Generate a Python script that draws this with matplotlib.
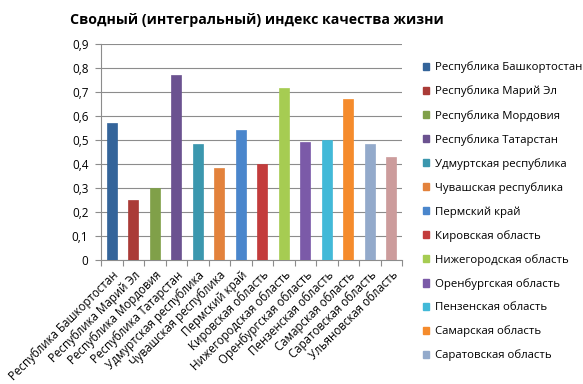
import numpy as np
import matplotlib
matplotlib.use("Agg")
import matplotlib.pyplot as plt
from matplotlib.patches import Patch

plt.rcParams['font.family'] = ['Open Sans', 'DejaVu Sans']

regions = ["Республика Башкортостан", "Республика Марий Эл", "Республика Мордовия",
           "Республика Татарстан", "Удмуртская республика", "Чувашская республика",
           "Пермский край", "Кировская область", "Нижегородская область",
           "Оренбургская область", "Пензенская область", "Самарская область",
           "Саратовская область", "Ульяновская область"]
index_values = [0.57, 0.25, 0.30, 0.77, 0.485, 0.385, 0.54, 0.40, 0.715,
                0.49, 0.50, 0.67, 0.485, 0.43]
bar_colors = ["#34649a", "#aa3b37", "#80a049", "#6b5290", "#3b97ae", "#e3823c",
              "#4a86cc", "#c33c3c", "#a6cc52", "#7b5aa8", "#42b9d8", "#f58b2c",
              "#93aacb", "#cc9c9c"]
y_ticks = [0, 0.1, 0.2, 0.3, 0.4, 0.5, 0.6, 0.7, 0.8, 0.9]

fig = plt.figure(figsize=(5.83, 3.84), dpi=100)
ax = fig.add_axes([101 / 583, 124 / 384, 301 / 583, 216 / 384])

x = np.arange(len(regions))
ax.bar(x, index_values, width=0.47, color=bar_colors, zorder=3,
       edgecolor=bar_colors, linewidth=0.5)

ax.set_xlim(-0.5, len(regions) - 0.5)
ax.set_ylim(0, 0.9)
ax.set_yticks(y_ticks)
ax.set_yticklabels([("%.1f" % v).replace(".", ",") if v else "0" for v in y_ticks],
                   fontsize=8.5)
ax.yaxis.grid(True, color="#8c8c8c", linewidth=0.8, zorder=0)
ax.tick_params(axis="y", length=4, color="#8c8c8c", pad=5)

# category ticks sit between bars
ax.set_xticks(np.arange(-0.5, len(regions)), minor=False)
ax.set_xticklabels([])
ax.set_xticks(x, minor=True)
ax.set_xticklabels(regions, minor=True, rotation=45, ha="right",
                   rotation_mode="anchor", fontsize=8.3)
ax.tick_params(axis="x", which="major", length=4, color="#8c8c8c")
ax.tick_params(axis="x", which="minor", length=0, pad=6)

for s in ["top", "right"]:
    ax.spines[s].set_visible(False)
for s in ["left", "bottom"]:
    ax.spines[s].set_color("#8c8c8c")

fig.text(70 / 583, 1 - 20 / 384, "Сводный (интегральный) индекс качества жизни",
         fontsize=10.2, fontweight="bold", va="center", ha="left")

handles = [Patch(facecolor=c, edgecolor=c) for c in bar_colors[:13]]
fig.legend(handles, regions[:13], loc="upper left",
           bbox_to_anchor=(418 / 583, 1 - 57 / 384), frameon=False,
           fontsize=8.2, handlelength=0.6, handleheight=0.6,
           handletextpad=0.45, labelspacing=1.08, borderaxespad=0)

fig.savefig("out.png", dpi=100)
